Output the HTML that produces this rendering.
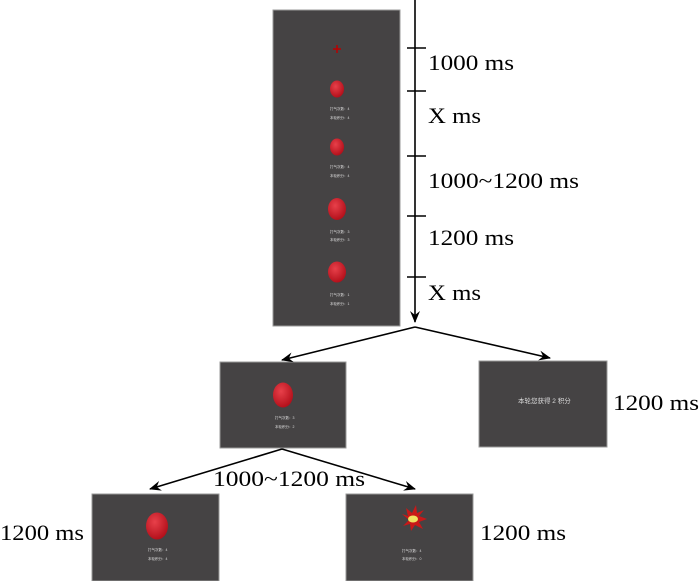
<!DOCTYPE html>
<html><head><meta charset="utf-8"><style>body{margin:0;background:#fff}svg{display:block}</style></head><body>
<svg width="700" height="581" viewBox="0 0 700 581" xmlns="http://www.w3.org/2000/svg" font-family="Liberation Serif, serif">
<defs>
<radialGradient id="b" cx="0.4" cy="0.35" r="0.7"><stop offset="0" stop-color="#e8404a"/><stop offset="1" stop-color="#b00d18"/></radialGradient>
<marker id="a" markerWidth="12" markerHeight="10" refX="11" refY="5" orient="auto" markerUnits="userSpaceOnUse"><path d="M0,0 L12,5 L0,10 L4,5 Z" fill="#000"/></marker>
</defs>
<g fill="#454344" stroke="#999" stroke-width="1">
<rect x="273" y="10" width="127" height="316"/>
<rect x="220" y="362" width="126" height="86"/>
<rect x="479" y="361" width="128" height="86"/>
<rect x="92" y="494" width="127" height="87"/>
<rect x="346" y="494" width="127" height="87"/>
</g>
<g stroke="#b00" stroke-width="1.5"><line x1="333" y1="49" x2="341" y2="49"/><line x1="337" y1="45" x2="337" y2="53"/></g>
<g fill="url(#b)">
<ellipse cx="337" cy="89" rx="7" ry="8.5"/><ellipse cx="337" cy="147" rx="7" ry="8.5"/><ellipse cx="337" cy="209" rx="9" ry="11"/><ellipse cx="337" cy="272" rx="9" ry="10.5"/>
<ellipse cx="283" cy="395" rx="10" ry="12.5"/><ellipse cx="157" cy="526" rx="11" ry="13.5"/>
</g>
<g font-family="Liberation Sans, Noto Sans CJK SC, sans-serif" font-size="3.5" fill="#ddd">
<text x="330" y="110">打气次数：4</text><text x="330" y="119">本轮积分：4</text>
<text x="330" y="168">打气次数：4</text><text x="330" y="177">本轮积分：4</text>
<text x="330" y="233">打气次数：3</text><text x="330" y="241">本轮积分：3</text>
<text x="330" y="296">打气次数：1</text><text x="330" y="305">本轮积分：1</text>
<text x="275" y="419">打气次数：3</text><text x="275" y="428">本轮积分：2</text>
<text x="148" y="551">打气次数：4</text><text x="148" y="560">本轮积分：4</text>
<text x="402" y="552">打气次数：4</text><text x="402" y="560">本轮积分：0</text>
<text x="518" y="403" font-size="6.5">本轮您获得 2 积分</text>
</g>
<polygon points="409,520 402,514 408,516 406,508 412,513 416,505 417,513 424,510 419,516 427,519 419,522 423,529 415,525 411,531 410,524 403,526" fill="#c81818"/>
<ellipse cx="413" cy="519" rx="5" ry="3.5" fill="#f0e060"/>
<g stroke="#000" stroke-width="1.6" fill="none">
<line x1="415" y1="0" x2="415" y2="322" marker-end="url(#a)"/>
<line x1="407" y1="48" x2="426" y2="48"/><line x1="407" y1="91" x2="426" y2="91"/><line x1="407" y1="156" x2="426" y2="156"/><line x1="407" y1="216" x2="426" y2="216"/><line x1="407" y1="277" x2="426" y2="277"/>
<line x1="415" y1="327" x2="282" y2="360" marker-end="url(#a)"/>
<line x1="415" y1="327" x2="550" y2="358" marker-end="url(#a)"/>
<line x1="282" y1="449" x2="150" y2="489" marker-end="url(#a)"/>
<line x1="282" y1="449" x2="415" y2="489" marker-end="url(#a)"/>
</g>
<g font-size="22" fill="#000" lengthAdjust="spacingAndGlyphs">
<text x="428" y="70" textLength="86" lengthAdjust="spacingAndGlyphs">1000 ms</text>
<text x="428" y="123" textLength="53" lengthAdjust="spacingAndGlyphs">X ms</text>
<text x="428" y="188" textLength="151" lengthAdjust="spacingAndGlyphs">1000~1200 ms</text>
<text x="428" y="245" textLength="86" lengthAdjust="spacingAndGlyphs">1200 ms</text>
<text x="428" y="300" textLength="53" lengthAdjust="spacingAndGlyphs">X ms</text>
<text x="613" y="410" textLength="86" lengthAdjust="spacingAndGlyphs">1200 ms</text>
<text x="213" y="486" textLength="152" lengthAdjust="spacingAndGlyphs">1000~1200 ms</text>
<text x="0" y="540" textLength="84" lengthAdjust="spacingAndGlyphs">1200 ms</text>
<text x="480" y="540" textLength="86" lengthAdjust="spacingAndGlyphs">1200 ms</text>
</g>
</svg>
</body></html>
